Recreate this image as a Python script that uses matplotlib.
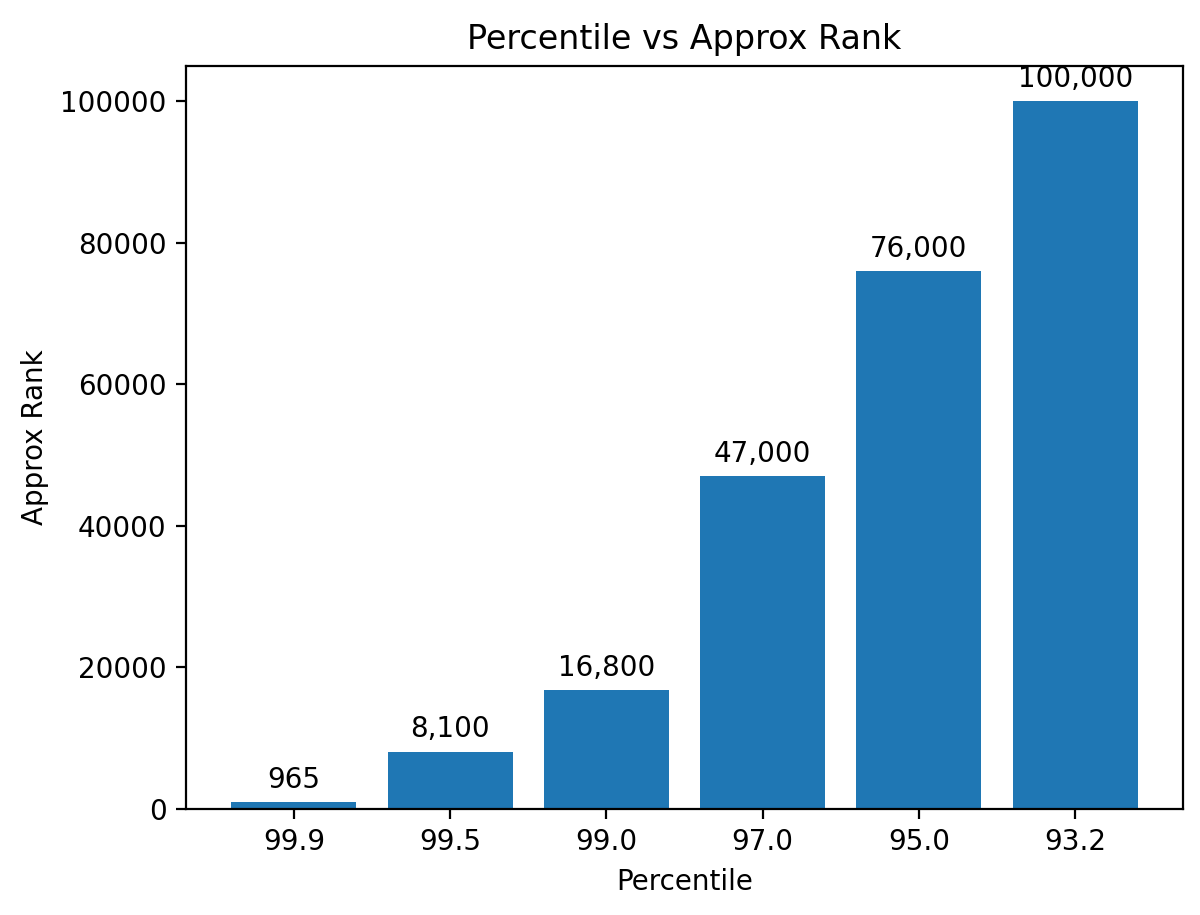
import matplotlib
matplotlib.use("Agg")
import matplotlib.pyplot as plt

percentiles = ["99.9", "99.5", "99.0", "97.0", "95.0", "93.2"]
ranks = [965, 8100, 16800, 47000, 76000, 100000]

fig = plt.figure(figsize=(6.0, 4.575), dpi=200)
ax = fig.add_axes([186/1200, 1-809/915, (1183-186)/1200, (809-66)/915])
bars = ax.bar(percentiles, ranks, color="#1f77b4")
ax.bar_label(bars, labels=[f"{v:,}" for v in ranks], padding=3)
ax.set_title("Percentile vs Approx Rank")
ax.set_xlabel("Percentile")
ax.set_ylabel("Approx Rank")
fig.savefig("out.png", dpi=200)
